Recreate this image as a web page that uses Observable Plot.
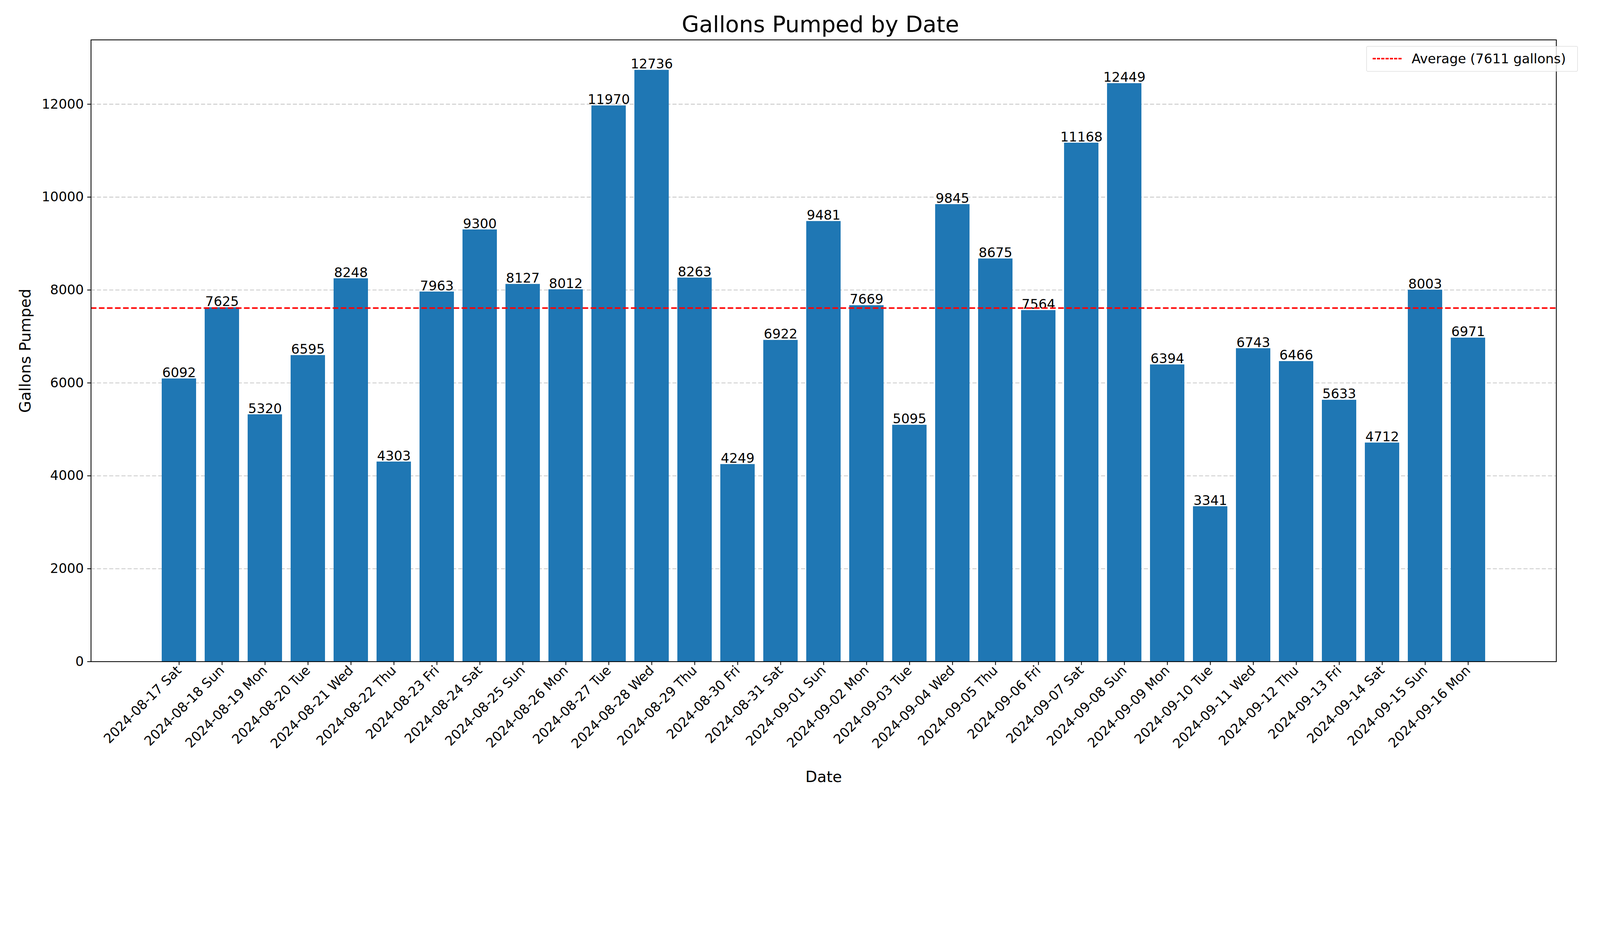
<!DOCTYPE html>
<html>
<head>
<meta charset="utf-8">
<script src="https://cdn.jsdelivr.net/npm/d3@7"></script>
<script src="https://cdn.jsdelivr.net/npm/@observablehq/plot@0.6"></script>
<style>
  html, body { margin: 0; background: white; font-family: "DejaVu Sans", sans-serif; overflow: hidden; }
  #wrap { position: relative; }
  #title { text-align: center; }
  #legend { position: absolute; border: 1px solid #d0d0d0; border-radius: 3px; background: rgba(255,255,255,0.8);
    display: flex; align-items: center; box-sizing: border-box; }
  #legend .sw { height: 0; border-top-style: dashed; border-top-color: red; }
</style>
</head>
<body>
<div id="wrap">
  <div id="title">Gallons Pumped by Date</div>
  <div id="chart"></div>
  <div id="legend"><span class="sw"></span><span>Average (7611 gallons)</span></div>
</div>
<script>
const dates = [
  "2024-08-17 Sat", "2024-08-18 Sun", "2024-08-19 Mon", "2024-08-20 Tue", "2024-08-21 Wed",
  "2024-08-22 Thu", "2024-08-23 Fri", "2024-08-24 Sat", "2024-08-25 Sun", "2024-08-26 Mon",
  "2024-08-27 Tue", "2024-08-28 Wed", "2024-08-29 Thu", "2024-08-30 Fri", "2024-08-31 Sat",
  "2024-09-01 Sun", "2024-09-02 Mon", "2024-09-03 Tue", "2024-09-04 Wed", "2024-09-05 Thu",
  "2024-09-06 Fri", "2024-09-07 Sat", "2024-09-08 Sun", "2024-09-09 Mon", "2024-09-10 Tue",
  "2024-09-11 Wed", "2024-09-12 Thu", "2024-09-13 Fri", "2024-09-14 Sat", "2024-09-15 Sun",
  "2024-09-16 Mon"
];
const gallons = [
  6092, 7625, 5320, 6595, 8248, 4303, 7963, 9300, 8127, 8012,
  11970, 12736, 8263, 4249, 6922, 9481, 7669, 5095, 9845, 8675,
  7564, 11168, 12449, 6394, 3341, 6743, 6466, 5633, 4712, 8003,
  6971
];
const average = 7611;
const yTicks = [0, 2000, 4000, 6000, 8000, 10000, 12000];

const rows = dates.map((d, i) => ({ date: d, value: gallons[i] }));

// Layout worked out in 1568x784 reference units, then scaled to the viewport.
const W = window.innerWidth, H = window.innerHeight;
const s = Math.min(W / 1568, H / 784);

const title = document.getElementById("title");
title.style.height = (12 * s) + "px";
title.style.lineHeight = (48 * s) + "px";
title.style.fontSize = (22 * s) + "px";
title.style.width = (1568 * s) + "px";
title.style.paddingLeft = (40 * s) + "px";
title.style.boxSizing = "border-box";

const lg = document.getElementById("legend");
lg.style.left = (1339 * s) + "px";
lg.style.top = (45 * s) + "px";
lg.style.width = (207 * s) + "px";
lg.style.height = (25 * s) + "px";
lg.style.fontSize = (13 * s) + "px";
const sw = lg.querySelector(".sw");
sw.style.width = (28 * s) + "px";
sw.style.borderTopWidth = (1.6 * s) + "px";
sw.style.margin = `0 ${10 * s}px 0 ${6 * s}px`;

const svg = Plot.plot({
  width: 1568 * s,
  height: (784 - 12) * s,
  marginLeft: 89 * s,
  marginRight: 43 * s,
  marginTop: 27 * s,
  marginBottom: 136 * s,
  style: { fontFamily: "DejaVu Sans, sans-serif", fontSize: (13 * s) + "px", color: "black", background: "white" },
  x: { type: "band", domain: dates, paddingInner: 0.2, paddingOuter: 1.6 },
  y: { domain: [0, 13385] },
  marks: [
    Plot.ruleY(yTicks.slice(1), { stroke: "#b0b0b0", strokeOpacity: 0.7, strokeWidth: 0.8 * s, strokeDasharray: `${4 * s} ${2 * s}` }),
    Plot.barY(rows, { x: "date", y: "value", fill: "#1f77b4" }),
    Plot.text(rows, { x: "date", y: "value", text: d => String(d.value), lineAnchor: "bottom", dy: -1.5 * s, fontSize: 13 * s, fill: "black" }),
    Plot.ruleY([average], { stroke: "red", strokeWidth: 1.5 * s, strokeDasharray: `${5.5 * s} ${2.4 * s}` }),
    Plot.axisX({ tickRotate: -45, tickSize: 3.5 * s, tickPadding: 3 * s, fontSize: 13 * s, label: "Date", labelAnchor: "center", labelOffset: 118 * s, labelArrow: "none", strokeWidth: 0.8 * s }),
    Plot.axisY({ ticks: yTicks, tickFormat: d => String(d), tickSize: 3.5 * s, tickPadding: 3.5 * s, fontSize: 13 * s, label: "Gallons Pumped", labelAnchor: "center", labelOffset: 70 * s, labelArrow: "none", strokeWidth: 0.8 * s }),
    Plot.frame({ stroke: "black", strokeWidth: 0.8 * s })
  ]
});
svg.querySelectorAll("[aria-label$='axis label'] text, [aria-label$='axis label']").forEach(el => el.setAttribute("font-size", String(15 * s)));
document.getElementById("chart").appendChild(svg);
</script>
</body>
</html>
